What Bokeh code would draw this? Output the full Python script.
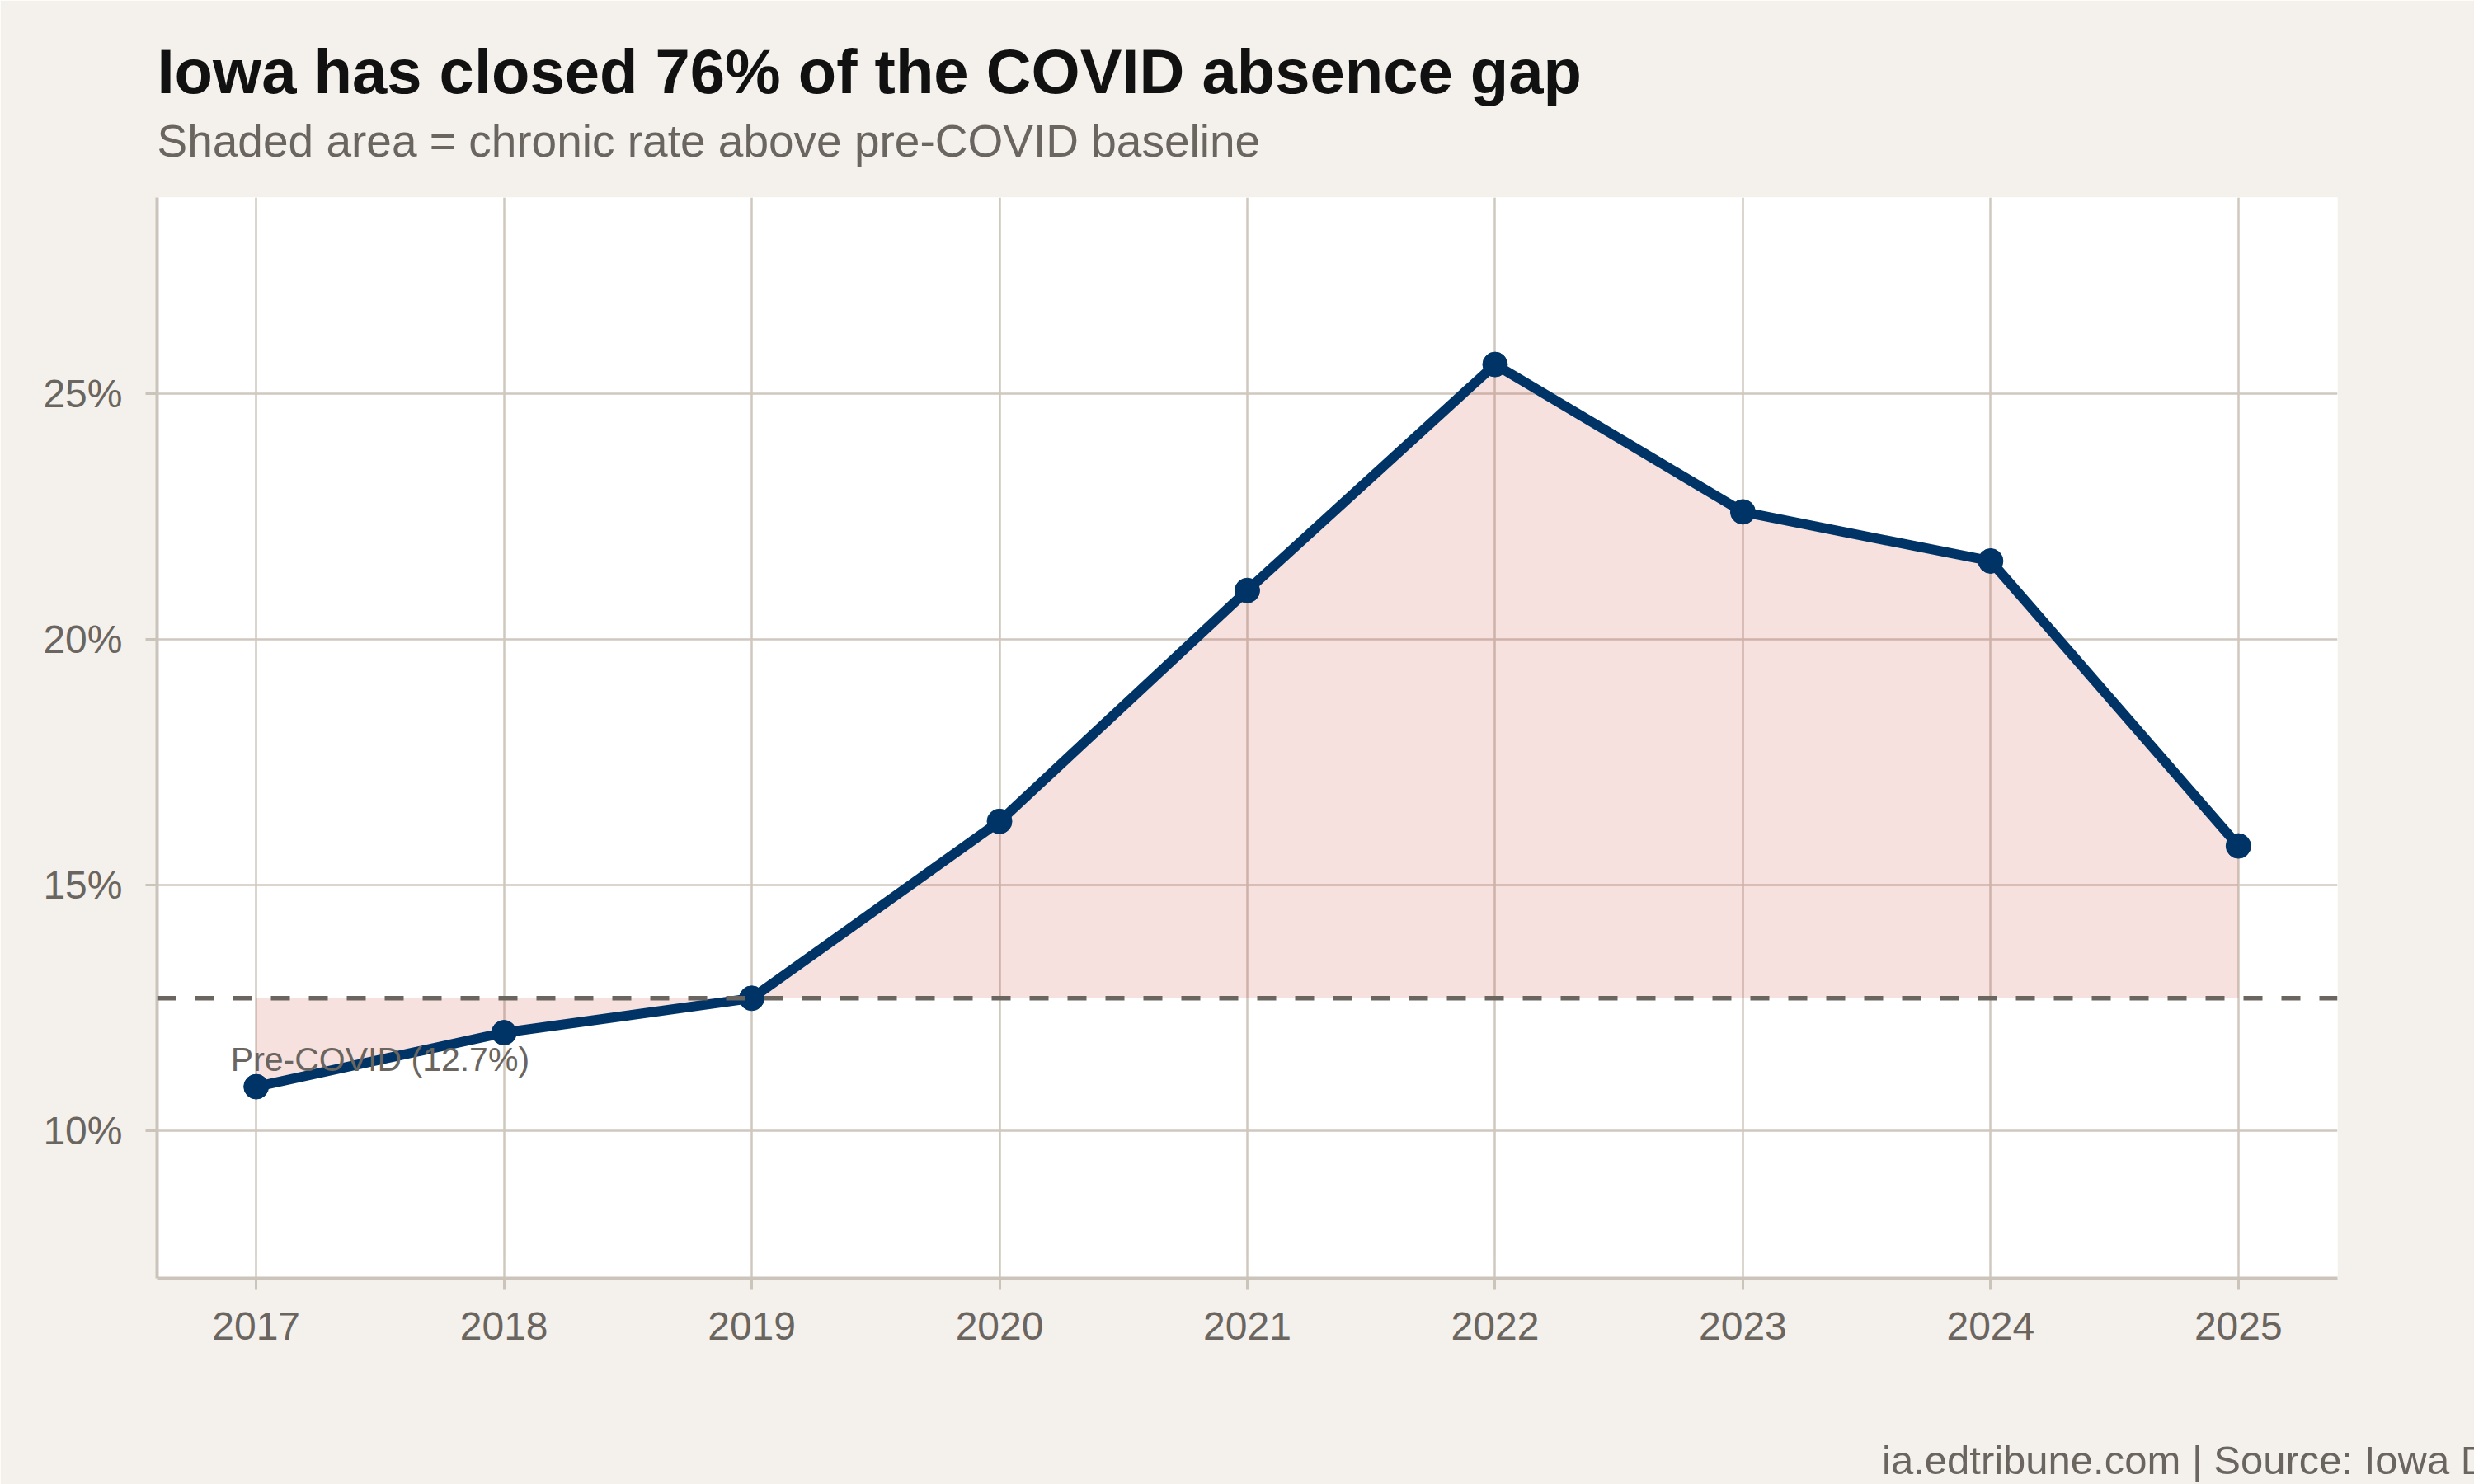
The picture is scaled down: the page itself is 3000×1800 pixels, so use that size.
from bokeh.plotting import figure
from bokeh.models import (ColumnDataSource, FixedTicker, PrintfTickFormatter,
                          Span, Label, Title)
from bokeh.embed import file_html
from bokeh.resources import INLINE

# Iowa chronic absenteeism rate by school year (percent)
years = [2017, 2018, 2019, 2020, 2021, 2022, 2023, 2024, 2025]
rates = [10.9, 12.0, 12.7, 16.3, 21.0, 25.6, 22.6, 21.6, 15.8]
baseline = 12.7  # pre-COVID rate
y_ticks = [10, 15, 20, 25]

title_text = "Iowa has closed 76% of the COVID absence gap"
subtitle_text = "Shaded area = chronic rate above pre-COVID baseline"
caption_text = "ia.edtribune.com | Source: Iowa Dept. of Education"
baseline_label = f"Pre-COVID ({baseline}%)"

FONT = "Liberation Sans"
BG = "#f4f1ec"
GRID = "#cfc8be"
AXIS = "#cbc4ba"
MUTED = "#6b6560"
NAVY = "#003366"

src = ColumnDataSource(dict(year=years, rate=rates, base=[baseline] * len(years)))

p = figure(width=3000, height=1800, output_backend="svg", toolbar_location=None,
           x_range=(2016.6, 2025.4), y_range=(7, 29),
           min_border_left=190, min_border_right=166,
           min_border_top=239, min_border_bottom=224)

p.background_fill_color = "white"
p.border_fill_color = BG
p.outline_line_color = None

# title block (title sits tight on the subtitle)
p.title.text = title_text
p.title.text_font = FONT
p.title.text_font_size = "76px"
p.title.text_font_style = "bold"
p.title.text_color = "#111111"
p.title.align = "left"
p.title.standoff = -56

p.add_layout(Title(text=subtitle_text, text_font=FONT, text_font_size="55px",
                   text_font_style="normal", text_color=MUTED, align="left",
                   standoff=75), "above")

# axes
p.xaxis.ticker = FixedTicker(ticks=years)
p.yaxis.ticker = FixedTicker(ticks=y_ticks)
p.xaxis.formatter = PrintfTickFormatter(format="%d")
p.yaxis.formatter = PrintfTickFormatter(format="%d%%")
for ax in (p.xaxis, p.yaxis):
    ax.axis_line_color = AXIS
    ax.axis_line_width = 4
    ax.major_tick_line_color = AXIS
    ax.major_tick_line_width = 3
    ax.major_tick_out = 14
    ax.major_tick_in = 0
    ax.minor_tick_line_color = None
    ax.major_label_text_font = FONT
    ax.major_label_text_font_size = "48px"
    ax.major_label_text_color = MUTED
p.xaxis.major_label_standoff = 27
p.yaxis.major_label_standoff = 28

# source line, right-aligned under the x axis
p.xaxis.axis_label = caption_text
p.xaxis.axis_label_align = "end"
p.xaxis.axis_label_text_align = "right"
p.xaxis.axis_label_standoff = 116
p.xaxis.axis_label_text_font = FONT
p.xaxis.axis_label_text_font_size = "49px"
p.xaxis.axis_label_text_font_style = "normal"
p.xaxis.axis_label_text_color = MUTED

# grid
p.xgrid.ticker = FixedTicker(ticks=years)
p.ygrid.ticker = FixedTicker(ticks=y_ticks)
for g in (p.xgrid, p.ygrid):
    g.grid_line_color = GRID
    g.grid_line_width = 2.5

# gap between the yearly rate and the baseline
p.varea(x="year", y1="base", y2="rate", source=src,
        fill_color="#c0392b", fill_alpha=0.15)

# baseline reference
p.add_layout(Span(location=baseline, dimension="width", line_color=MUTED,
                  line_width=5.5, line_dash="23 23"))

# rate line and points
p.line(x="year", y="rate", source=src, line_color=NAVY, line_width=12)
p.scatter(x="year", y="rate", source=src, size=30, fill_color=NAVY,
          line_color=NAVY)

p.add_layout(Label(x=2017.5, y=11.45, text=baseline_label, text_align="center",
                   text_baseline="alphabetic", text_font=FONT,
                   text_font_size="41px", text_color=MUTED))

open("out.html", "w").write(file_html(p, INLINE))
